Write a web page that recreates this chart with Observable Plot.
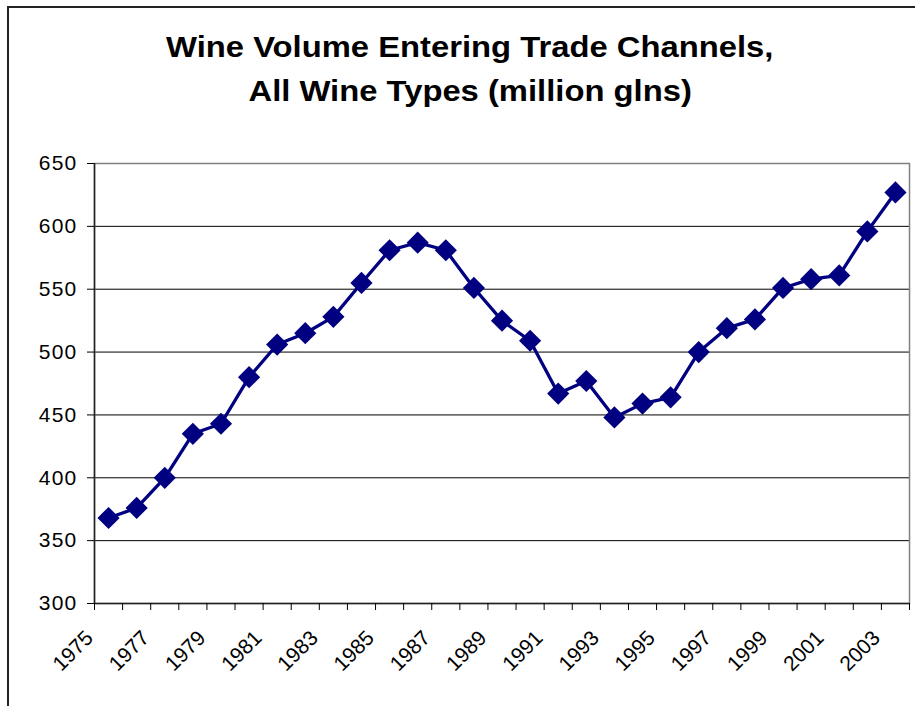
<!DOCTYPE html>
<html>
<head>
<meta charset="utf-8">
<script src="https://cdn.jsdelivr.net/npm/d3@7"></script>
<script src="https://cdn.jsdelivr.net/npm/@observablehq/plot@0.6"></script>
<style>
  html, body { margin: 0; padding: 0; background: #fff; overflow: hidden; }
  #wrap { position: relative; width: 915px; height: 706px; overflow: hidden; }
  #border { position: absolute; left: 7px; top: 6px; width: 1000px; height: 1000px;
            border-left: 2px solid #222; border-top: 2px solid #222; }
  #title { position: absolute; left: 0; top: 25px; width: 940px; text-align: center;
           font-family: "Liberation Sans", Arial, sans-serif; font-weight: bold;
           font-size: 29px; line-height: 44px; color: #000; }
  #title span { display: inline-block; transform: scaleX(1.13); white-space: nowrap; }
  #chart { position: absolute; left: 0; top: 0; }
  .wine g[aria-label="y-axis tick label"] text { letter-spacing: 1.2px; }
</style>
</head>
<body>
<div id="wrap">
  <div id="border"></div>
  <div id="title">
    <div><span>Wine Volume Entering Trade Channels,</span></div>
    <div><span>All Wine Types (million glns)</span></div>
  </div>
  <div id="chart"></div>
</div>
<script>
const years = [1975, 1976, 1977, 1978, 1979, 1980, 1981, 1982, 1983, 1984,
               1985, 1986, 1987, 1988, 1989, 1990, 1991, 1992, 1993, 1994,
               1995, 1996, 1997, 1998, 1999, 2000, 2001, 2002, 2003];
const volumes = [368, 376, 400, 435, 443, 480, 506, 515, 528, 555,
                 581, 587, 581, 551, 525, 509, 467, 477, 448, 459,
                 464, 500, 519, 526, 551, 558, 561, 596, 627];
const yTicks = [300, 350, 400, 450, 500, 550, 600, 650];
const gridValues = [350, 400, 450, 500, 550, 600];
const xLabelYears = [1975, 1977, 1979, 1981, 1983, 1985, 1987, 1989,
                     1991, 1993, 1995, 1997, 1999, 2001, 2003];

const data = years.map((year, i) => ({year, volume: volumes[i]}));
const boundaries = [...years.map(y => y - 0.5), years[years.length - 1] + 0.5];

const chart = Plot.plot({
  className: "wine",
  width: 915,
  height: 706,
  marginTop: 163,
  marginBottom: 103,
  marginLeft: 94,
  marginRight: 6,
  style: {fontFamily: "'Liberation Sans', Arial, sans-serif", fontSize: "21px", color: "#000", background: "transparent", overflow: "visible"},
  x: {domain: [years[0] - 0.5, years[years.length - 1] + 0.5]},
  y: {domain: [yTicks[0], yTicks[yTicks.length - 1]]},
  marks: [
    Plot.ruleY(gridValues, {stroke: "#000", strokeWidth: 1}),
    Plot.frame({stroke: "#808080", strokeWidth: 1.5}),
    Plot.ruleX([years[0] - 0.5], {stroke: "#222", strokeWidth: 1.5}),
    Plot.ruleY([yTicks[0]], {stroke: "#222", strokeWidth: 1.5}),
    Plot.axisY({ticks: yTicks, tickSize: 7, tickPadding: 10, fontSize: 21, label: null, tickFormat: d => String(d)}),
    Plot.axisX({ticks: boundaries, tickSize: 7, tickFormat: () => "", label: null}),
    Plot.axisX({ticks: xLabelYears, tickSize: 0, tickRotate: -45, tickPadding: 31, dx: -19, fontSize: 21, label: null, tickFormat: d => String(d)}),
    Plot.line(data, {x: "year", y: "volume", stroke: "#000080", strokeWidth: 3.3}),
    Plot.dot(data, {x: "year", y: "volume", symbol: "diamond2", r: 10, fill: "#000080", stroke: "none"})
  ]
});
document.getElementById("chart").appendChild(chart);
</script>
</body>
</html>
